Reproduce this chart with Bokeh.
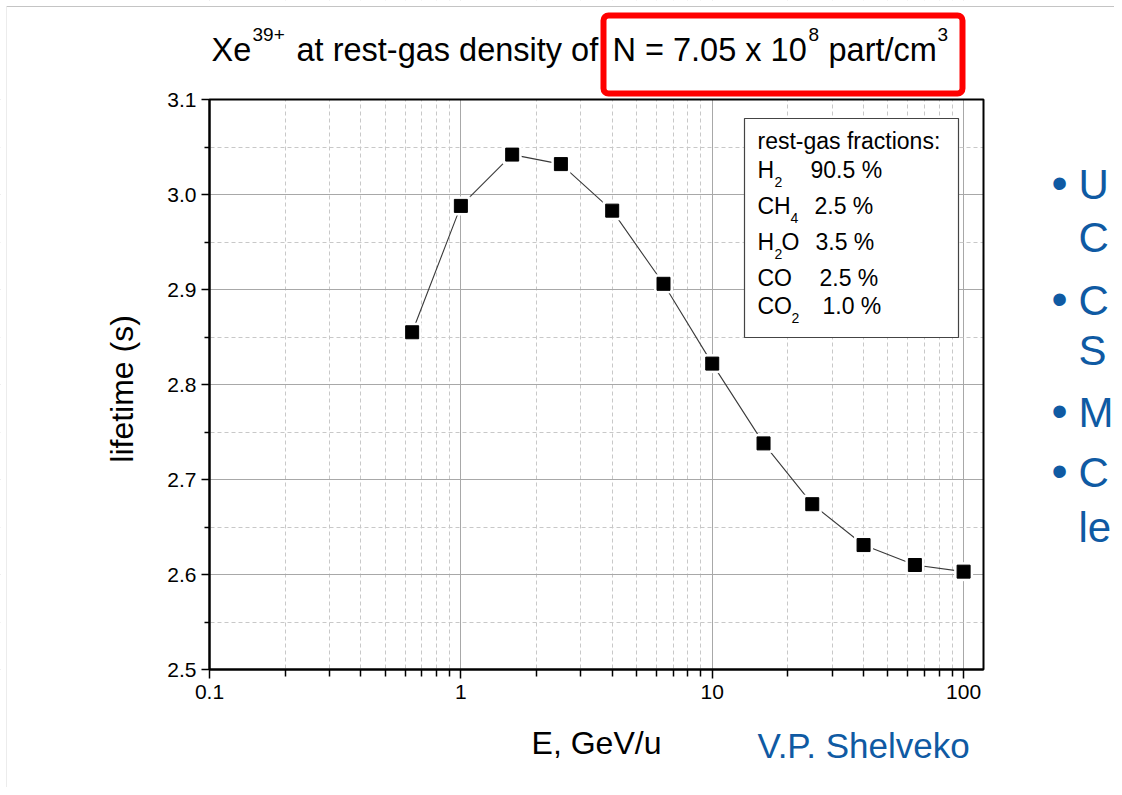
import math
from bokeh.plotting import figure
from bokeh.models import (FixedTicker, CustomJSTickFormatter, PrintfTickFormatter,
                          Label, BoxAnnotation)
from bokeh.embed import file_html
from bokeh.resources import INLINE

# ---------------- data ----------------
energy = [0.64, 1.0, 1.6, 2.5, 4.0, 6.4, 10, 16, 25, 40, 64, 100]          # GeV/u
lifetime = [2.855, 2.988, 3.042, 3.032, 2.983, 2.906, 2.822, 2.738, 2.674, 2.631, 2.610, 2.603]  # s

x_major = [0.1, 1, 10, 100]
x_minor = [0.2, 0.3, 0.4, 0.5, 0.6, 0.7, 0.8, 0.9,
           2, 3, 4, 5, 6, 7, 8, 9,
           20, 30, 40, 50, 60, 70, 80, 90]
y_major = [2.5, 2.6, 2.7, 2.8, 2.9, 3.0, 3.1]
y_minor = [2.55, 2.65, 2.75, 2.85, 2.95, 3.05]

gas_title = "rest-gas fractions:"
gas_values = ["90.5 %", "2.5 %", "3.5 %", "2.5 %", "1.0 %"]

X_LO, X_HI = 0.1, 120
Y_LO, Y_HI = 2.5, 3.1

FONT = "Liberation Sans"
BLUE = "#0f5aa3"

# ---------------- layout (page pixels) ----------------
W, H = 1114, 787
FL, FR, FT, FB = 209, 983, 99, 669   # plot-area box on the page

# the frame covers the whole canvas; the plot box sits inside it
ppd = (FR - FL) / (math.log10(X_HI) - math.log10(X_LO))
ppu = (FB - FT) / (Y_HI - Y_LO)
x_start = 10 ** (math.log10(X_LO) - FL / ppd)
x_end = 10 ** (math.log10(X_HI) + (W - FR) / ppd)
y_start = Y_LO - (H - FB) / ppu
y_end = Y_HI + FT / ppu

p = figure(width=W, height=H, x_axis_type="log", x_range=(x_start, x_end),
           y_range=(y_start, y_end), output_backend="svg", toolbar_location=None,
           min_border=0)
p.background_fill_color = "white"
p.border_fill_color = "white"
p.outline_line_color = None

# axes placed at the plot box edges
p.xaxis.fixed_location = Y_LO
p.yaxis.fixed_location = X_LO
p.xaxis.bounds = (X_LO, X_HI)
p.yaxis.bounds = (Y_LO, Y_HI)
p.xaxis.ticker = FixedTicker(ticks=x_major, minor_ticks=x_minor)
p.yaxis.ticker = FixedTicker(ticks=y_major, minor_ticks=y_minor)
p.xaxis.formatter = CustomJSTickFormatter(code="return tick >= 1 ? tick.toFixed(0) : tick.toFixed(1);")
p.yaxis.formatter = PrintfTickFormatter(format="%.1f")
for ax in (p.xaxis, p.yaxis):
    ax.axis_line_width = 2
    ax.axis_line_color = "black"
    ax.major_tick_line_width = 1.5
    ax.minor_tick_line_width = 1.5
    ax.major_tick_in = 0
    ax.minor_tick_in = 0
    ax.major_label_text_font = FONT
    ax.major_label_text_font_size = "21px"
    ax.major_label_text_color = "black"
    ax.axis_label_text_font = FONT
    ax.axis_label_text_font_style = "normal"
    ax.axis_label_text_font_size = "32px"
    ax.axis_label_text_color = "black"
p.xaxis.major_tick_out = 9
p.xaxis.minor_tick_out = 7
p.yaxis.major_tick_out = 8
p.yaxis.minor_tick_out = 5
p.xaxis.major_label_standoff = 6
p.yaxis.major_label_standoff = 5
p.xaxis.axis_label = "E, GeV/u"
p.yaxis.axis_label = "lifetime  (s)"
p.xaxis.axis_label_standoff = 23
p.yaxis.axis_label_standoff = 24

# grids
for g in (p.xgrid, p.ygrid):
    g.grid_line_color = "#a8a8a8"
    g.grid_line_width = 1
    g.minor_grid_line_color = "#c8c8c8"
    g.minor_grid_line_dash = "4 3"
    g.minor_grid_line_width = 1

# white covers so that the grid stays inside the plot box
for kw in (dict(bottom=Y_HI), dict(top=Y_LO), dict(right=X_LO), dict(left=X_HI)):
    p.add_layout(BoxAnnotation(fill_color="white", fill_alpha=1, line_color=None,
                               level="underlay", **kw))

# data
p.line(energy, lifetime, line_color="#3a3a3a", line_width=1.1)
p.scatter(energy, lifetime, marker="square", size=19, fill_color="white", line_color=None)
p.scatter(energy, lifetime, marker="square", size=13, fill_color="black", line_color="black")

# plot box border
p.add_layout(BoxAnnotation(left=X_LO, right=X_HI, bottom=Y_LO, top=Y_HI, fill_alpha=0,
                           line_color="black", line_alpha=1, line_width=2))

BASE_SHIFT = 0.42   # Bokeh label baseline correction, in em


def put(text, X, Y, size, color="black", align="left"):
    p.add_layout(Label(x=X, y=H - Y + BASE_SHIFT * size, x_units="screen", y_units="screen",
                       text=text, text_font=FONT, text_font_size=f"{size}px",
                       text_color=color, text_align=align, text_baseline="alphabetic"))


def box(l, t, r, b, **kw):
    p.add_layout(BoxAnnotation(left=l, right=r, top=H - t, bottom=H - b,
                               left_units="screen", right_units="screen",
                               top_units="screen", bottom_units="screen", **kw))


# slide border lines
box(6, 5.5, W, 6.5, fill_color="#c4c4c4", fill_alpha=1, line_color=None)
box(5.5, 6, 6.5, H, fill_color="#ececec", fill_alpha=1, line_color=None)

# title
TS, SS = 32.5, 19
put("Xe", 211, 63, TS)
put("39+", 252, 42, SS)
put("at rest-gas density of", 296, 63, TS)
put("N = 7.05 x 10", 612, 63, TS)
put("8", 808, 42, SS)
put("part/cm", 828, 63, TS)
put("3", 937, 42, SS)
box(603, 15, 962, 93, fill_alpha=0, line_color="#ff0000", line_alpha=1, line_width=6,
    border_radius=5)

# legend-like box
box(744, 118, 958, 337, fill_color="white", fill_alpha=1, line_color="#444444",
    line_alpha=1, line_width=1.2)
put(gas_title, 757, 150, 23)
rows_y = [179, 215, 251, 287, 315]
put("H", 757, rows_y[0], 23); put("2", 774, rows_y[0] + 8, 14)
put("CH", 757, rows_y[1], 23); put("4", 790, rows_y[1] + 8, 14)
put("H", 757, rows_y[2], 23); put("2", 774, rows_y[2] + 8, 14); put("O", 781, rows_y[2], 23)
put("CO", 757, rows_y[3], 23)
put("CO", 757, rows_y[4], 23); put("2", 791, rows_y[4] + 8, 14)
val_x = [810, 814, 815, 819, 822]
for vx, vy, vt in zip(val_x, rows_y, gas_values):
    put(vt, vx, vy, 23)

# credit
put("V.P. Shelveko", 757, 760, 35, color=BLUE)

# cut-off slide bullets on the right
bullet_rows = [("\u2022", "U", 202), ("", "C", 255), ("\u2022", "C", 318), ("", "S", 368),
               ("\u2022", "M", 430), ("\u2022", "C", 490), ("", "le", 545)]
for b, t, y in bullet_rows:
    if b:
        put(b, 1051, y, 46, color=BLUE)
    put(t, 1078, y, 42, color=BLUE)

open("out.html", "w").write(file_html(p, INLINE))
